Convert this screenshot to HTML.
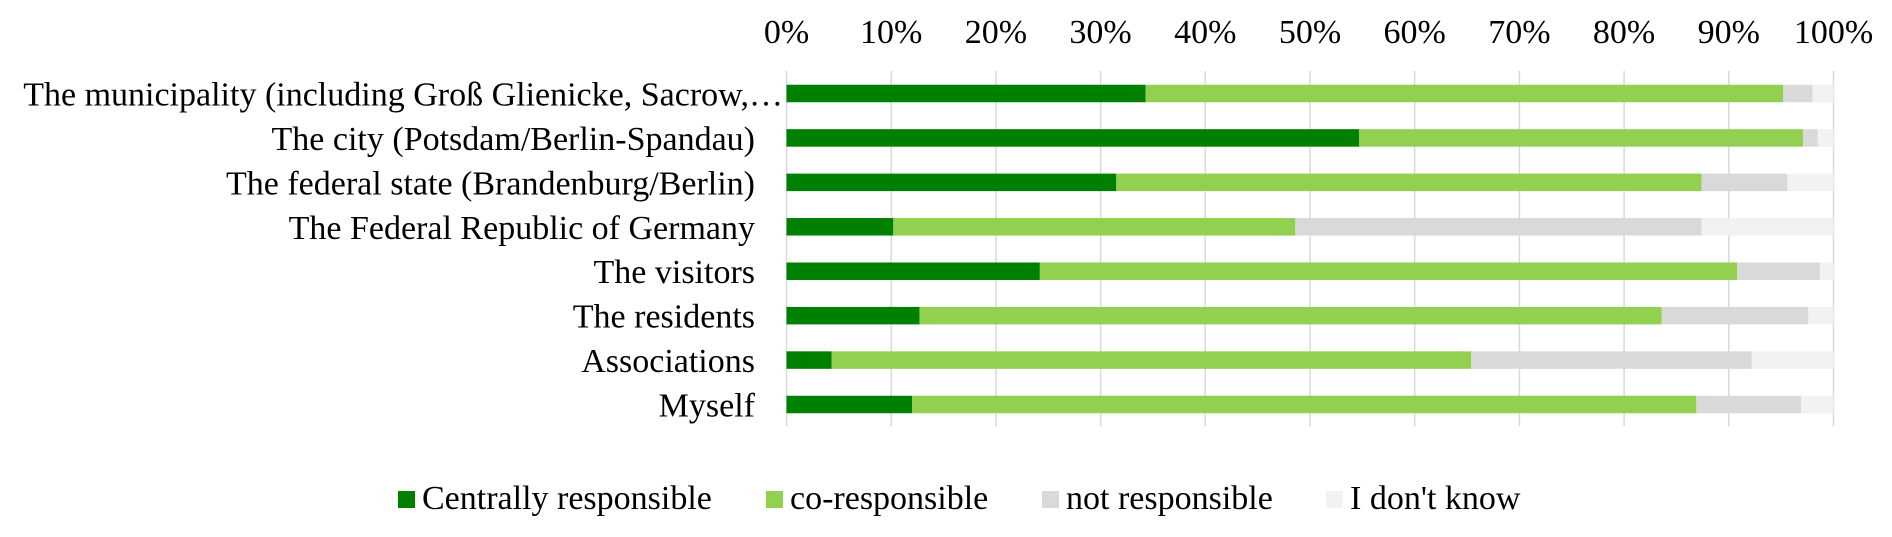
<!DOCTYPE html>
<html><head><meta charset="utf-8"><style>
html,body{margin:0;padding:0;background:#fff;}
svg{display:block;font-family:"Liberation Serif",serif;}
</style></head><body>
<svg id="chart" width="1892" height="537" viewBox="0 0 1892 537" xmlns="http://www.w3.org/2000/svg">
<g id="grid"></g>
<g id="xticks"></g>
<g id="cats"></g>
<g id="bars"></g>
<g id="legend"></g>
</svg>
<script>
const categories = ["The municipality (including Groß Glienicke, Sacrow,…","The city (Potsdam/Berlin-Spandau)","The federal state (Brandenburg/Berlin)","The Federal Republic of Germany","The visitors","The residents","Associations","Myself"];
const central = [34.3, 54.7, 31.5, 10.2, 24.2, 12.7, 4.3, 12.0];
const coResp = [60.9, 42.4, 55.9, 38.4, 66.6, 70.9, 61.1, 74.9];
const notResp = [2.8, 1.4, 8.2, 38.8, 7.9, 14.0, 26.8, 10.0];
const dontKnow = [2.0, 1.5, 4.4, 12.6, 1.3, 2.4, 7.8, 3.1];
const tickLabels = ["0%","10%","20%","30%","40%","50%","60%","70%","80%","90%","100%"];
const seriesNames = ["Centrally responsible","co-responsible","not responsible","I don't know"];

const NS="http://www.w3.org/2000/svg";
const X0=786.5, X1=1833.5, Y0=93.5, STEP=44.43, BH=17.5;
const x = v => X0 + (X1-X0)*v/100;
const y = i => Y0 + STEP*i;
const colors=["#008000","#92d050","#d9d9d9","#f2f2f2"];
const series=[central,coResp,notResp,dontKnow];
function mk(tag,attrs,parent){const e=document.createElementNS(NS,tag);for(const k in attrs)e.setAttribute(k,attrs[k]);parent.appendChild(e);return e;}

const grid=document.getElementById('grid'), xt=document.getElementById('xticks');
tickLabels.forEach((t,i)=>{
  const l=mk('line',{x1:x(i*10),x2:x(i*10),y1:71,y2:426,stroke:'#d9d9d9','stroke-width':1.5},grid);
  
  
  const tx=mk('text',{x:x(i*10),y:43,'text-anchor':'middle','font-size':34,fill:'#000'},xt);
  tx.textContent=t;
  
  
});
const cats=document.getElementById('cats'), bars=document.getElementById('bars');
categories.forEach((c,i)=>{
  const tx=mk('text',{x:i===0?783:755,y:y(i)+12,'text-anchor':'end','font-size':34,fill:'#000'},cats);
  tx.textContent=c;
  
  
  let acc=0;
  series.forEach((s,k)=>{
    const r=mk('rect',{x:x(acc),y:y(i)-BH/2,width:x(acc+s[i])-x(acc),height:BH,fill:colors[k]},bars);
    
    
    acc+=s[i];
  });
});
const lg=document.getElementById('legend');
const lx=[398,766,1042,1326];
seriesNames.forEach((n,k)=>{
  const r=mk('rect',{x:lx[k],y:491,width:17,height:17,fill:colors[k]},lg);
  
  
  const t=mk('text',{x:lx[k]+24,y:509,'font-size':34,fill:'#000'},lg);
  t.textContent=n;
  
  
});
</script>
</body></html>
